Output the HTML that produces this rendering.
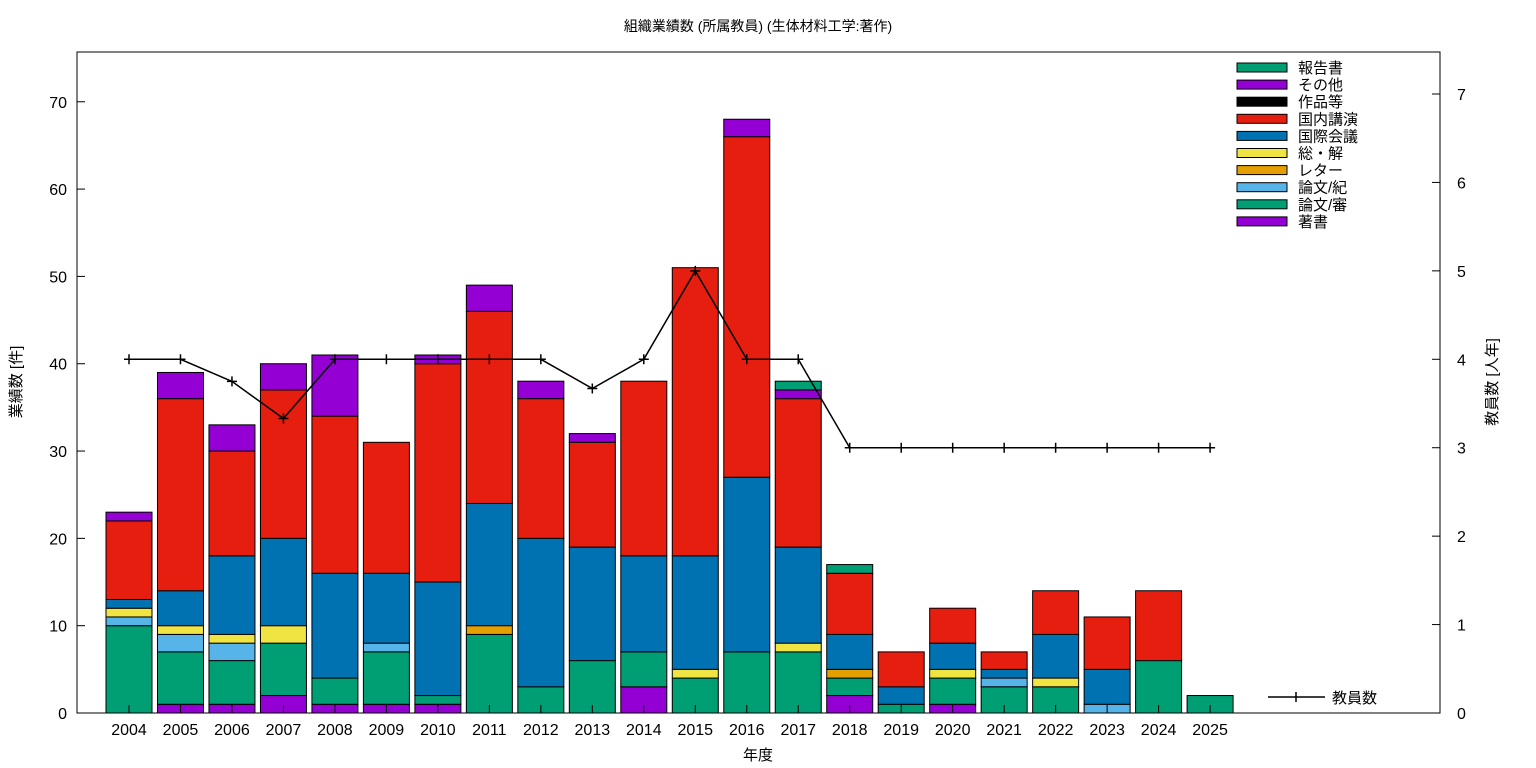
<!DOCTYPE html>
<html><head><meta charset="utf-8"><style>
body{margin:0;background:#fff;}
svg{display:block;font-family:"Liberation Sans","Noto Sans CJK JP",sans-serif;}
</style></head><body>
<svg id="chart" width="1536" height="768" xmlns="http://www.w3.org/2000/svg">
<text x="758" y="31" text-anchor="middle" font-size="14">組織業績数 (所属教員) (生体材料工学:著作)</text>
<text x="758" y="760" text-anchor="middle" font-size="15">年度</text>
<text transform="translate(21,382) rotate(-90)" text-anchor="middle" font-size="15">業績数 [件]</text>
<text transform="translate(1497,382) rotate(-90)" text-anchor="middle" font-size="15">教員数 [人年]</text>
<g id="bars"></g>
<g id="axes"></g>
<g id="legend"></g>
</svg>
<script>
const years=[2004,2005,2006,2007,2008,2009,2010,2011,2012,2013,2014,2015,2016,2017,2018,2019,2020,2021,2022,2023,2024,2025];
const seriesNames=["著書","論文/審","論文/紀","レター","総・解","国際会議","国内講演","作品等","その他","報告書"];
const s_chosho=[0,1,1,2,1,1,1,0,0,0,3,0,0,0,2,0,1,0,0,0,0,0];
const s_shin=[10,6,5,6,3,6,1,9,3,6,4,4,7,7,2,1,3,3,3,0,6,2];
const s_ki=[1,2,2,0,0,1,0,0,0,0,0,0,0,0,0,0,0,1,0,1,0,0];
const s_letter=[0,0,0,0,0,0,0,1,0,0,0,0,0,0,1,0,0,0,0,0,0,0];
const s_sou=[1,1,1,2,0,0,0,0,0,0,0,1,0,1,0,0,1,0,1,0,0,0];
const s_kokusai=[1,4,9,10,12,8,13,14,17,13,11,13,20,11,4,2,3,1,5,4,0,0];
const s_kokunai=[9,22,12,17,18,15,25,22,16,12,20,33,39,17,7,4,4,2,5,6,8,0];
const s_sakuhin=[0,0,0,0,0,0,0,0,0,0,0,0,0,0,0,0,0,0,0,0,0,0];
const s_sonota=[1,3,3,3,7,0,1,3,2,1,0,0,2,1,0,0,0,0,0,0,0,0];
const s_houkoku=[0,0,0,0,0,0,0,0,0,0,0,0,0,1,1,0,0,0,0,0,0,0];
const faculty=[4,4,3.75,3.33,4,4,4,4,4,3.67,4,5,4,4,3,3,3,3,3,3,3,3];
const yTicks=[0,10,20,30,40,50,60,70];
const y2Ticks=[0,1,2,3,4,5,6,7];

const stack=[s_chosho,s_shin,s_ki,s_letter,s_sou,s_kokusai,s_kokunai,s_sakuhin,s_sonota,s_houkoku];
const colors=["#9400d3","#009e73","#56b4e9","#e69f00","#f0e442","#0072b2","#e51e10","#000000","#9400d3","#009e73"];
const keys=["chosho","shinsa","kiyou","letter","review","intl-conf","domestic-talk","works","other","report"];
const L=77,R=1440,T=52,B=713,yMax=75.7,y2Max=7.475;
const xS=i=>129+i*51.48;
const yS=v=>B-(v/yMax)*(B-T);
const y2S=v=>B-(v/y2Max)*(B-T);
const NS="http://www.w3.org/2000/svg";
function mk(p,tag,a){const e=document.createElementNS(NS,tag);for(const k in a)e.setAttribute(k,a[k]);p.appendChild(e);return e;}
const gb=document.getElementById('bars'),ga=document.getElementById('axes'),gl=document.getElementById('legend');
years.forEach((y,i)=>{let acc=0;stack.forEach((s,k)=>{const v=s[i];if(!v)return;
 const r=mk(gb,'rect',{x:xS(i)-23,y:yS(acc+v),width:46,height:yS(acc)-yS(acc+v),fill:colors[k],stroke:'#000','stroke-width':1});
 
 
 acc+=v;});});
// frame
const fr=mk(ga,'rect',{x:L,y:T,width:R-L,height:B-T,fill:'none',stroke:'#000','stroke-width':1});


yTicks.forEach(t=>{const y=yS(t);mk(ga,'line',{x1:L,x2:L+8,y1:y,y2:y,stroke:'#000'});
 const tx=mk(ga,'text',{x:L-10,y:y+6,'text-anchor':'end','font-size':16});tx.textContent=t;
 
 });
y2Ticks.forEach(t=>{const y=y2S(t);mk(ga,'line',{x1:R-8,x2:R,y1:y,y2:y,stroke:'#000'});
 const tx=mk(ga,'text',{x:R+17,y:y+6,'font-size':16});tx.textContent=t;
 
 });
years.forEach((y,i)=>{const x=xS(i);mk(ga,'line',{x1:x,x2:x,y1:B,y2:B-8,stroke:'#000'});
 const tx=mk(ga,'text',{x:x,y:B+22,'text-anchor':'middle','font-size':16});tx.textContent=y;
 
 });
// faculty line
const pts=faculty.map((v,i)=>xS(i)+','+y2S(v)).join(' ');
const pl=mk(ga,'polyline',{points:pts,fill:'none',stroke:'#000','stroke-width':1.5});


faculty.forEach((v,i)=>{const x=xS(i),y=y2S(v);
 const p=mk(ga,'path',{d:`M${x-5},${y}H${x+5}M${x},${y-5}V${y+5}`,stroke:'#000','stroke-width':1.5});
 
 });
// legend
const order=[9,8,7,6,5,4,3,2,1,0];
order.forEach((k,j)=>{const y=67+j*17.1;
 const r=mk(gl,'rect',{x:1237,y:y-4,width:50,height:9,fill:colors[k],stroke:'#000','stroke-width':1});
 
 
 const t=mk(gl,'text',{x:1298,y:y+6,'font-size':15});t.textContent=seriesNames[k];
 
 });
const ll=mk(gl,'path',{d:'M1268,697H1325M1296,692V702',stroke:'#000','stroke-width':1.5});


const lt=mk(gl,'text',{x:1332,y:703,'font-size':15});lt.textContent='教員数';


</script>
</body></html>
